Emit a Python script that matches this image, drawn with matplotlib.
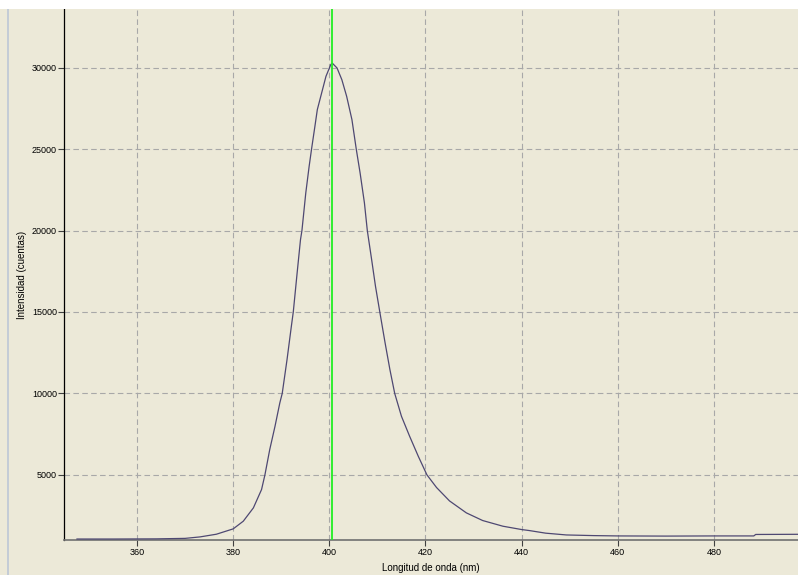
import numpy as np
import matplotlib
matplotlib.use("Agg")
import matplotlib.pyplot as plt
from matplotlib.patches import Rectangle

# --- Emission spectrum (wavelength in nm, counts) ---
wavelength = [347.5, 355, 364, 370, 373.1, 376.5, 380.0, 382.1, 384.2, 385.9,
              386.6, 387.6, 388.7, 389.7, 390.2, 391.2, 392.1, 392.5, 393.3,
              394.0, 394.3, 395.1, 395.8, 396.3, 397.0, 397.5, 398.4, 399.3,
              400.3, 400.6, 401.6, 402.6, 403.6, 404.7, 405.6, 406.4, 407.3,
              407.9, 408.8, 409.6, 410.5, 411.6, 412.6, 413.6, 415.0, 416.7,
              418.5, 420.3, 422.3, 425.0, 428.5, 431.9, 436.1, 440.0, 441.6,
              445, 449.3, 455, 460, 470, 480, 488.3, 488.7, 497.5]
intensity = [1060, 1060, 1070, 1100, 1190, 1355, 1683, 2155, 2973, 4100,
             5000, 6550, 7985, 9417, 10000, 12077, 14123, 15000, 17396,
             19440, 20000, 22307, 23944, 25000, 26400, 27422, 28445, 29468,
             30184, 30280, 29980, 29263, 28240, 26808, 25000, 23535, 21694,
             20000, 18215, 16578, 15000, 13100, 11463, 10000, 8598, 7370,
             6143, 5000, 4223, 3400, 2666, 2195, 1847, 1642, 1580,
             1420, 1310, 1270, 1250, 1240, 1250, 1250, 1340, 1350]

peak_marker = 400.6

xticks = [360, 380, 400, 420, 440, 460, 480]
yticks = [5000, 10000, 15000, 20000, 25000, 30000]

BG = "#ece9d8"
plt.rcParams["font.family"] = ["Liberation Sans", "DejaVu Sans"]

fig = plt.figure(figsize=(7.98, 5.75), dpi=100, facecolor=BG)
ax = fig.add_axes([64 / 798, 1 - 540 / 575, 734 / 798, 531 / 575])
ax.set_facecolor(BG)

# window chrome: white strip on top, thin frame line on the left
fig.patches.append(Rectangle((0, 1 - 9 / 575), 1, 9 / 575, transform=fig.transFigure,
                             facecolor="white", edgecolor="none", zorder=0))
fig.patches.append(Rectangle((7 / 798, 0), 2 / 798, 1 - 9 / 575, transform=fig.transFigure,
                             facecolor="#c4ccd6", edgecolor="none", zorder=0))

ax.plot(wavelength, intensity, color="#4e4872", lw=0.9, zorder=3)
ax.axvline(peak_marker, color="#22ee22", lw=1.3, zorder=4)

ax.set_xlim(344.8, 497.5)
ax.set_ylim(1000, 33600)
ax.set_xticks(xticks)
ax.set_yticks(yticks)
ax.set_xticklabels([str(t) for t in xticks])
ax.set_yticklabels([str(t) for t in yticks])

ax.grid(True, color="#a8a8a8", ls=(0, (5, 3)), lw=0.8, zorder=1)
for s in ["top", "right"]:
    ax.spines[s].set_visible(False)
ax.spines["left"].set_color("black")
ax.spines["left"].set_linewidth(0.9)
ax.spines["bottom"].set_color("#707070")
ax.spines["bottom"].set_linewidth(1.2)

ax.tick_params(axis="both", labelsize=6.5, length=4, width=0.8, color="#404040")
ax.tick_params(axis="y", pad=1)
ax.tick_params(axis="x", pad=2)

ax.set_xlabel("Longitud de onda (nm)", fontsize=7, labelpad=4)
ax.set_ylabel("Intensidad (cuentas)", fontsize=7, labelpad=3.5)

fig.savefig("out.png", dpi=100, facecolor=BG)
